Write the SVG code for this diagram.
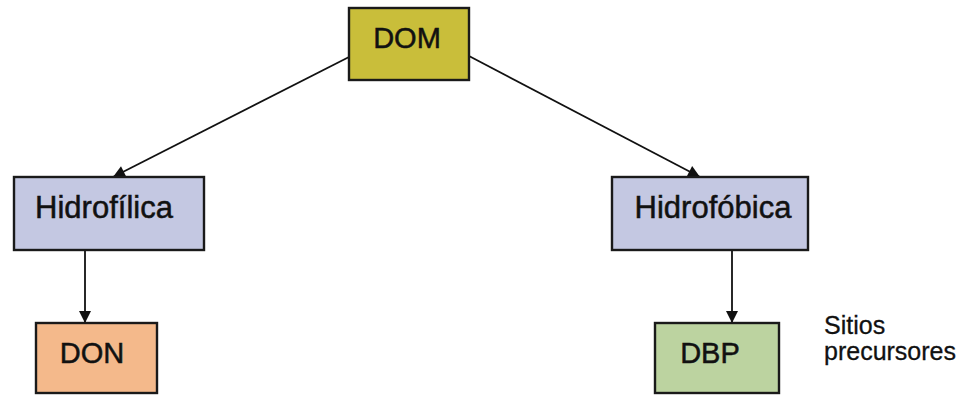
<svg xmlns="http://www.w3.org/2000/svg" width="968" height="395" viewBox="0 0 968 395">
  <style>
    .box { stroke: #1a1a1a; stroke-width: 2.4; }
    .lbl { font-family: "Liberation Sans", Arial, sans-serif; font-size: 29px; fill: #111; stroke: #111; stroke-width: 0.5; text-anchor: middle; }
    .lbl.big { font-size: 31px; }
    .note { font-family: "Liberation Sans", Arial, sans-serif; font-size: 25px; fill: #111; stroke: #111; stroke-width: 0.3; }
    .edge { stroke: #111; stroke-width: 1.8; fill: none; marker-end: url(#arrow); }
  </style>
  <defs>
    <marker id="arrow" viewBox="0 0 10 10" refX="10" refY="5" markerWidth="14" markerHeight="12" markerUnits="userSpaceOnUse" orient="auto">
      <path d="M0,0 L10,5 L0,10 z" fill="#111"/>
    </marker>
  </defs>
  <rect width="968" height="395" fill="#ffffff"/>

  <g id="connectors">
    <line class="edge" x1="349" y1="57" x2="113" y2="177"/>
    <line class="edge" x1="469" y1="56" x2="700" y2="177"/>
    <line class="edge" x1="85" y1="250" x2="85" y2="323"/>
    <line class="edge" x1="732" y1="250" x2="732" y2="323"/>
  </g>

  <g id="dom">
    <rect class="box" x="349" y="8" width="120" height="72" fill="#c9be3a"/>
    <text class="lbl" x="407" y="48">DOM</text>
  </g>
  <g id="hidrofilica">
    <rect class="box" x="14" y="177" width="190" height="73" fill="#c4c8e2"/>
    <text class="lbl big" x="104" y="218">Hidrofílica</text>
  </g>
  <g id="hidrofobica">
    <rect class="box" x="612" y="177" width="196" height="73" fill="#c4c8e2"/>
    <text class="lbl big" x="713" y="218">Hidrofóbica</text>
  </g>
  <g id="don">
    <rect class="box" x="36" y="323" width="121" height="70" fill="#f4b98b"/>
    <text class="lbl" x="92" y="363">DON</text>
  </g>
  <g id="dbp">
    <rect class="box" x="655" y="323" width="124" height="70" fill="#bcd3a0"/>
    <text class="lbl" x="710" y="363">DBP</text>
  </g>
  <g id="sitios">
    <text class="note" x="824" y="334">Sitios</text>
    <text class="note" x="824" y="360">precursores</text>
  </g>
</svg>
